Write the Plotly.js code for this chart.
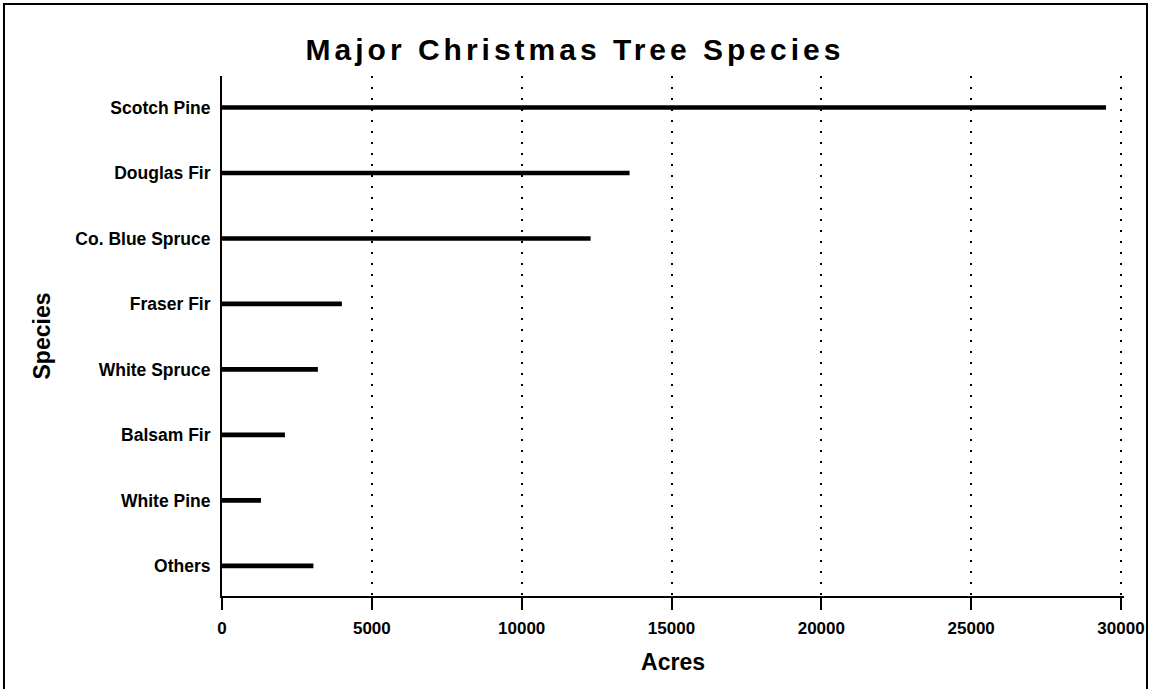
<!DOCTYPE html>
<html>
<head>
<meta charset="utf-8">
<script src="https://cdn.plot.ly/plotly-3.0.1.min.js"></script>
<style>
html, body { margin: 0; padding: 0; background: #fff; }
#chart { width: 1150px; height: 689px; }
.gtitle { letter-spacing: 4px; }
</style>
</head>
<body>
<div id="chart"></div>
<script>
// Data
const species = ["Others", "White Pine", "Balsam Fir", "White Spruce", "Fraser Fir", "Co. Blue Spruce", "Douglas Fir", "Scotch Pine"];
const acres = [3050, 1300, 2100, 3200, 4000, 12300, 13600, 29500];
const xTicks = [0, 5000, 10000, 15000, 20000, 25000, 30000];

const font = "Liberation Sans, Arial, Helvetica, sans-serif";

const trace = {
  type: "bar",
  orientation: "h",
  y: species,
  x: acres,
  width: 0.07,
  marker: { color: "#000000", line: { width: 0 } },
  hoverinfo: "x+y"
};

const layout = {
  width: 1150,
  height: 689,
  paper_bgcolor: "#ffffff",
  plot_bgcolor: "#ffffff",
  margin: { l: 222, r: 26, t: 76, b: 93 },
  showlegend: false,
  font: { family: font, color: "#000000" },
  title: {
    text: "<b>Major Christmas Tree Species</b>",
    font: { family: font, size: 30, color: "#000000" },
    xref: "container", x: 0.5, xanchor: "center",
    yref: "container", y: 1 - 49 / 689, yanchor: "middle"
  },
  xaxis: {
    range: [0, 30100],
    tickvals: xTicks,
    ticktext: xTicks.map(v => "<b>" + v + "</b>"),
    tickfont: { family: font, size: 17, color: "#000000" },
    ticks: "outside", ticklen: 12, tickwidth: 2, tickcolor: "#000000",
    ticklabelstandoff: 4,
    showline: true, linecolor: "#000000", linewidth: 2,
    showgrid: true, gridcolor: "#000000", gridwidth: 2, griddash: "2px,9px",
    zeroline: false,
    title: { text: "<b>Acres</b>", font: { family: font, size: 23, color: "#000000" }, standoff: 16 },
    fixedrange: true
  },
  yaxis: {
    type: "category",
    categoryorder: "array",
    categoryarray: species,
    range: [-0.46, 7.48],
    tickfont: { family: font, size: 17.5, color: "#000000" },
    ticks: "outside", ticklen: 6, tickcolor: "rgba(0,0,0,0)",
    showline: true, linecolor: "#000000", linewidth: 2,
    showgrid: false, zeroline: false,
    tickprefix: "<b>", ticksuffix: "</b>",
    title: { text: "<b>Species</b>", font: { family: font, size: 23, color: "#000000" }, standoff: 18 },
    fixedrange: true
  },
  shapes: [
    {
      type: "path", xref: "paper", yref: "paper",
      path: "M -0.2417,-0.1788 L -0.2417,1.1385 L 1.0255,1.1385 L 1.0255,-0.1788",
      line: { color: "#000000", width: 2 }
    }
  ]
};

Plotly.newPlot("chart", [trace], layout, { displayModeBar: false, staticPlot: true });
</script>
</body>
</html>
